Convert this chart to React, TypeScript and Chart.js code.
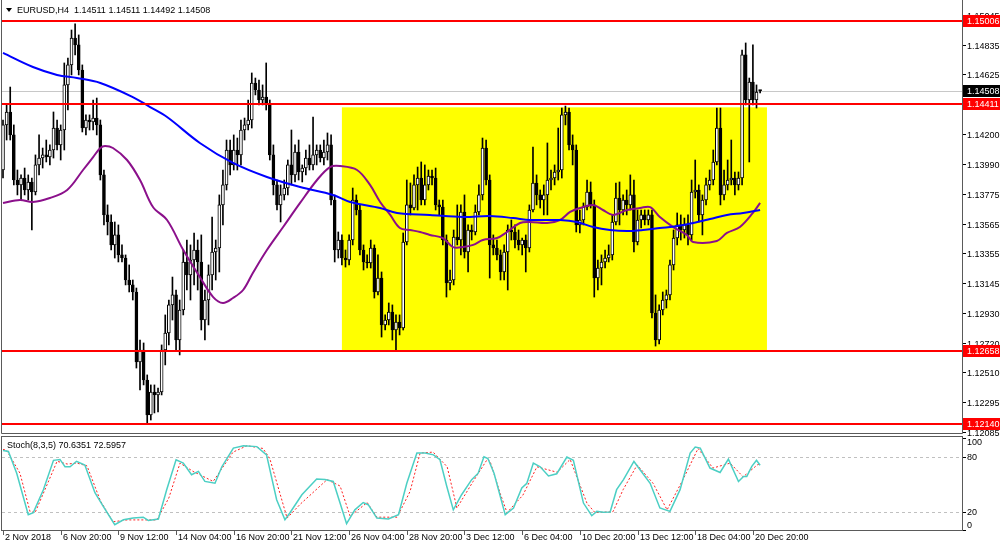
import React, { useEffect, useRef } from "react";
import { Chart, registerables } from "chart.js";
Chart.register(...registerables);

// ---------- data ----------
const SYMBOL_TITLE = "EURUSD,H4  1.14511 1.14511 1.14492 1.14508";
const STOCH_TITLE = "Stoch(8,3,5) 70.6351 72.5957";

const OPEN = [
  1.13945,1.14265,1.14357,1.14194,1.13874,1.13839,1.13888,1.13803,1.13860,1.13789,
  1.13981,1.14030,1.14052,1.14037,1.14087,1.14243,1.14123,1.14229,1.14549,1.14691,
  1.14882,1.14833,1.14655,1.14243,1.14300,1.14286,1.14314,1.14265,1.13910,1.13626,
  1.13576,1.13413,1.13484,1.13342,1.13320,1.13164,1.13129,1.13079,1.12582,1.12667,
  1.12454,1.12206,1.12369,1.12348,1.12369,1.12667,1.12788,1.12987,1.13058,1.12738,
  1.12951,1.13292,1.13200,1.13306,1.13377,1.13292,1.12880,1.13022,1.13200,1.13363,
  1.13391,1.13697,1.13839,1.14087,1.13981,1.14087,1.14052,1.14229,1.14265,1.14300,
  1.14563,1.14513,1.14442,1.14463,1.14407,1.14052,1.13839,1.13697,1.13768,1.13817,
  1.13981,1.13910,1.14073,1.13931,1.13959,1.14030,1.13981,1.14052,1.14087,1.14030,
  1.14073,1.14123,1.13732,1.13377,1.13448,1.13320,1.13306,1.13448,1.13732,1.13661,
  1.13377,1.13292,1.13285,1.13391,1.13079,1.13178,1.12845,1.12880,1.12937,1.12809,
  1.12866,1.12823,1.13434,1.13697,1.13675,1.13839,1.13888,1.13732,1.13839,1.13902,
  1.13888,1.13697,1.13682,1.13448,1.13143,1.13164,1.13469,1.13448,1.13647,1.13363,
  1.13519,1.13505,1.13647,1.13768,1.14101,1.13874,1.13413,1.13391,1.13342,1.13221,
  1.13363,1.13519,1.13505,1.13448,1.13413,1.13448,1.13391,1.13661,1.13853,1.13768,
  1.13732,1.13768,1.13874,1.13888,1.13931,1.13945,1.14336,1.14357,1.14123,1.14087,
  1.13555,1.13590,1.13682,1.13789,1.13697,1.13178,1.13249,1.13292,1.13320,1.13342,
  1.13576,1.13746,1.13661,1.13732,1.13697,1.13768,1.13434,1.13590,1.13626,1.13590,
  1.13626,1.12930,1.12738,1.12951,1.13022,1.13058,1.13271,1.13462,1.13555,1.13519,
  1.13555,1.13484,1.13789,1.13803,1.13626,1.13732,1.13839,1.13874,1.14002,1.14243,
  1.13768,1.13839,1.13874,1.13888,1.13839,1.13888,1.14762,1.14442,1.14570,1.14442,
  1.14511,
];
const HIGH = [
  1.14300,1.14407,1.14534,1.14265,1.13945,1.13910,1.13959,1.13910,1.13888,1.14052,
  1.14194,1.14101,1.14158,1.14123,1.14357,1.14300,1.14265,1.14705,1.14740,1.14939,
  1.14982,1.14904,1.14691,1.14336,1.14336,1.14442,1.14456,1.14300,1.13945,1.13697,
  1.13626,1.13576,1.13555,1.13413,1.13342,1.13271,1.13164,1.13107,1.12738,1.12717,
  1.12490,1.12419,1.12419,1.12397,1.12703,1.12916,1.13022,1.13185,1.13093,1.13022,
  1.13377,1.13448,1.13413,1.13498,1.13448,1.13484,1.13093,1.13271,1.13611,1.13448,
  1.13768,1.13945,1.14158,1.14158,1.14194,1.14172,1.14300,1.14314,1.14442,1.14634,
  1.14598,1.14584,1.14549,1.14705,1.14442,1.14123,1.13874,1.13839,1.13874,1.14016,
  1.14229,1.14123,1.14158,1.13981,1.14087,1.14123,1.14321,1.14123,1.14123,1.14158,
  1.14208,1.14194,1.13768,1.13505,1.13484,1.13377,1.13484,1.13817,1.13768,1.13697,
  1.13413,1.13342,1.13448,1.13413,1.13342,1.13221,1.12916,1.13001,1.12987,1.12916,
  1.12916,1.13498,1.13874,1.13853,1.13910,1.13966,1.14002,1.13981,1.13945,1.13945,
  1.13959,1.13732,1.13732,1.13484,1.13235,1.13519,1.13697,1.13697,1.13768,1.13555,
  1.13555,1.13697,1.13839,1.14172,1.14158,1.13910,1.13484,1.13448,1.13377,1.13413,
  1.13555,1.13590,1.13555,1.13519,1.13462,1.13484,1.13697,1.14108,1.13910,1.13803,
  1.13839,1.14137,1.13945,1.13981,1.14243,1.14385,1.14399,1.14385,1.14194,1.14123,
  1.13661,1.13711,1.13874,1.13860,1.13732,1.13306,1.13342,1.13377,1.13413,1.13626,
  1.13853,1.13860,1.13768,1.13803,1.13910,1.13874,1.13661,1.13661,1.13661,1.13661,
  1.13661,1.13058,1.12987,1.13079,1.13093,1.13306,1.13519,1.13640,1.13626,1.13604,
  1.13626,1.13874,1.14016,1.13839,1.13768,1.13888,1.13945,1.14087,1.14385,1.14385,
  1.13945,1.14016,1.14158,1.13931,1.13931,1.14797,1.14847,1.14598,1.14833,1.14549,
  1.14511,
];
const LOW = [
  1.13888,1.14158,1.14158,1.13839,1.13768,1.13732,1.13768,1.13732,1.13519,1.13768,
  1.13910,1.13959,1.14002,1.13981,1.14030,1.14087,1.14016,1.14087,1.14371,1.14620,
  1.14762,1.14620,1.14215,1.14194,1.14229,1.14229,1.14194,1.13874,1.13555,1.13484,
  1.13377,1.13320,1.13292,1.13292,1.13129,1.13079,1.13022,1.12539,1.12383,1.12419,
  1.12142,1.12170,1.12220,1.12227,1.12348,1.12561,1.12703,1.12880,1.12667,1.12632,
  1.12916,1.13093,1.13022,1.13129,1.13093,1.12809,1.12738,1.12845,1.13093,1.13164,
  1.13221,1.13555,1.13803,1.13910,1.13945,1.13945,1.13981,1.14158,1.14229,1.14243,
  1.14478,1.14407,1.14407,1.14371,1.14016,1.13768,1.13661,1.13576,1.13732,1.13768,
  1.13839,1.13860,1.13874,1.13860,1.13910,1.13945,1.13945,1.13981,1.14002,1.13981,
  1.14016,1.13697,1.13292,1.13320,1.13271,1.13256,1.13271,1.13413,1.13626,1.13342,
  1.13235,1.13249,1.13249,1.13036,1.13058,1.12759,1.12809,1.12845,1.12738,1.12667,
  1.12774,1.12809,1.13413,1.13626,1.13661,1.13661,1.13697,1.13697,1.13803,1.13839,
  1.13661,1.13626,1.13413,1.13043,1.13093,1.13129,1.13413,1.13342,1.13320,1.13221,
  1.13448,1.13484,1.13626,1.13732,1.13839,1.13178,1.13342,1.13306,1.13164,1.13164,
  1.13093,1.13448,1.13391,1.13377,1.13342,1.13221,1.13363,1.13647,1.13697,1.13675,
  1.13626,1.13626,1.13803,1.13839,1.13874,1.13888,1.14265,1.14087,1.13981,1.13505,
  1.13498,1.13555,1.13661,1.13675,1.13043,1.13093,1.13129,1.13249,1.13292,1.13306,
  1.13555,1.13555,1.13626,1.13626,1.13661,1.13363,1.13413,1.13533,1.13555,1.13555,
  1.12894,1.12695,1.12710,1.12916,1.12965,1.13022,1.13235,1.13413,1.13448,1.13462,
  1.13413,1.13448,1.13746,1.13576,1.13484,1.13697,1.13803,1.13839,1.13981,1.13697,
  1.13732,1.13803,1.13839,1.13768,1.13803,1.13839,1.14407,1.14002,1.14407,1.14385,
  1.14492,
];
const CLOSE = [
  1.14265,1.14357,1.14194,1.13874,1.13839,1.13888,1.13803,1.13860,1.13789,1.13981,
  1.14030,1.14052,1.14037,1.14087,1.14243,1.14123,1.14229,1.14549,1.14691,1.14882,
  1.14833,1.14655,1.14243,1.14300,1.14286,1.14314,1.14265,1.13910,1.13626,1.13576,
  1.13413,1.13484,1.13342,1.13320,1.13164,1.13129,1.13079,1.12582,1.12667,1.12454,
  1.12206,1.12369,1.12348,1.12369,1.12667,1.12788,1.12987,1.13058,1.12738,1.12951,
  1.13292,1.13200,1.13306,1.13377,1.13292,1.12880,1.13022,1.13200,1.13363,1.13391,
  1.13697,1.13839,1.14087,1.13981,1.14087,1.14052,1.14229,1.14265,1.14300,1.14563,
  1.14513,1.14442,1.14463,1.14407,1.14052,1.13839,1.13697,1.13768,1.13817,1.13981,
  1.13910,1.14073,1.13931,1.13959,1.14030,1.13981,1.14052,1.14087,1.14030,1.14073,
  1.14123,1.13732,1.13377,1.13448,1.13320,1.13306,1.13448,1.13732,1.13661,1.13377,
  1.13292,1.13285,1.13391,1.13079,1.13178,1.12845,1.12880,1.12937,1.12809,1.12866,
  1.12823,1.13434,1.13697,1.13675,1.13839,1.13888,1.13732,1.13839,1.13902,1.13888,
  1.13697,1.13682,1.13448,1.13143,1.13164,1.13469,1.13448,1.13647,1.13363,1.13519,
  1.13505,1.13647,1.13768,1.14101,1.13874,1.13413,1.13391,1.13342,1.13221,1.13363,
  1.13519,1.13505,1.13448,1.13413,1.13448,1.13391,1.13661,1.13853,1.13768,1.13732,
  1.13768,1.13874,1.13888,1.13931,1.13945,1.14336,1.14357,1.14123,1.14087,1.13555,
  1.13590,1.13682,1.13789,1.13697,1.13178,1.13249,1.13292,1.13320,1.13342,1.13576,
  1.13746,1.13661,1.13732,1.13697,1.13768,1.13434,1.13590,1.13626,1.13590,1.13626,
  1.12930,1.12738,1.12951,1.13022,1.13058,1.13271,1.13462,1.13555,1.13519,1.13555,
  1.13484,1.13789,1.13803,1.13626,1.13732,1.13839,1.13874,1.14002,1.14243,1.13768,
  1.13839,1.13874,1.13888,1.13839,1.13888,1.14762,1.14442,1.14570,1.14442,1.14499,
  1.14508,
];

// slow moving average (blue), bar index -> value
const BLUE_MA_X = [0,8.3,15,20.5,27,36,40.8,45.5,54.6,63.8,73.2,82.4,91.5,96.3,104.6,109.3,118.4,127.6,135.1,141.5,146.2,154.5,159.2,163.7,168.4,173.1,177.5,182.2,187,191.4,196.1,200.8,205.3,210];
const BLUE_MA = [1.14776,1.14676,1.14620,1.14598,1.14563,1.14463,1.14392,1.14321,1.14137,1.13995,1.13895,1.13824,1.13768,1.13718,1.13675,1.13640,1.13626,1.13611,1.13618,1.13604,1.13590,1.13590,1.13576,1.13540,1.13519,1.13512,1.13519,1.13533,1.13547,1.13569,1.13597,1.13626,1.13640,1.13661];

// fast moving average (purple)
const PURPLE_MA_X = [0,4.7,8.3,13,17.8,22.2,25,27,28.3,30.5,34.4,38,41.6,45.5,50,54.6,58.3,61,63.8,66.6,69.3,73.2,77.7,82.4,87.1,90.7,93.5,98.2,101.8,104.6,107.4,110.1,112.9,115.7,118.4,122,124.8,127.6,130.4,133.1,137,139.8,143.4,146.2,150.9,154.5,157.3,160,163.7,166.4,169.2,173.1,176.7,179.5,182.2,185.9,189.7,191.4,198,200.8,204.4,208,210];
const PURPLE_MA = [1.13711,1.13732,1.13718,1.13746,1.13803,1.13945,1.14037,1.14101,1.14115,1.14101,1.14016,1.13874,1.13682,1.13590,1.13377,1.13185,1.13043,1.13001,1.13036,1.13093,1.13214,1.13377,1.13540,1.13711,1.13874,1.13966,1.13973,1.13945,1.13839,1.13718,1.13626,1.13533,1.13519,1.13505,1.13484,1.13462,1.13398,1.13398,1.13413,1.13448,1.13462,1.13505,1.13569,1.13576,1.13569,1.13590,1.13647,1.13675,1.13697,1.13661,1.13626,1.13661,1.13675,1.13682,1.13611,1.13540,1.13484,1.13434,1.13441,1.13498,1.13540,1.13640,1.13711];

// stochastic main (%K) and signal (%D)
const STOCH_MAIN_X = [0,1.5,3.8,7,8.4,11.2,14,15.8,17.2,18.6,20.4,22.7,25.5,27.8,31,33.4,36.1,38.9,40.3,43.1,45.4,48,50,52.3,54.2,56,58.8,60.7,63.9,66.7,70.4,73.1,75.9,78.2,79.6,82.9,87,89.3,91.6,95.3,97.6,99.9,101.3,103.7,106.9,109.7,112,114.8,117.1,119.4,121.2,123.1,124.9,127.2,130,131.8,133.4,134.5,136.2,139.3,141.6,143.9,145.3,147.1,149,151.3,153.6,156.4,158.2,161,163.3,164.7,166.5,168.4,170.2,172.1,175,176.7,179.5,182.2,185,187.8,190.6,192,193.4,196.1,198.9,201.2,204,205.4,206.3,207.7,209,210];
const STOCH_MAIN = [86.8,85.7,62,16.7,19,44,76,77,69,69,75,71,40.7,25.7,5.8,11.2,13,14,10.5,12,44,76.7,73,60.3,64,53,51,69,89.4,92,91,82,33,11.2,18.8,38.5,55.6,55,53,6.9,22,30,27.6,13,12,16.7,51,84,84,82,76.7,47.5,22,38.5,55,62,80,78,62,16.7,24,45.8,51,73,69,59,61.4,79.6,76,29.4,15.6,20.3,19.5,19.7,44,55,74.8,65.8,51,24,20.3,44,84,90.5,89.4,67.6,62.8,77.4,53,58.5,58.5,69.4,76,70.6];
const STOCH_SIG_X = [0,1,4.7,7.5,8.9,15,17.8,20.5,23.3,27,30.5,34.4,42.7,46,49.1,52.7,58.3,63.8,67.7,72.1,74,78.8,82.4,89.9,93.5,96.3,101,103.7,109.3,112.9,115.7,119.3,123.2,125.9,130.4,134.3,135.1,137.9,139.8,144.2,148.1,153.7,157.3,162,164.2,169.2,172,175.9,180.3,184.2,188.6,192.8,196.9,201.7,205.3,209.2,210];
const STOCH_SIG = [88,87,62,20,19,75,72,73,70,32,9,11,11,35,73,64,53,85,92,89,78,13,28,55,48,15,30,14,14,42,84,85,69,24,53,77,75,40,19,38,69,63,77,29,19,20,44,71,51,22,55,89,67.6,73,58,71,72.6];

// horizontal levels and box
const RED_LEVELS = [1.15006, 1.14411, 1.12658, 1.12140];
const BID_PRICE = 1.14508;
const ZONE_START = 94.0;
const ZONE_END = 211.9;
const ZONE_LOW = 1.12658;
const ZONE_HIGH = 1.1439;

// axes
const PRICE_TICKS = [1.15045,1.14835,1.14625,1.1441,1.142,1.1399,1.13775,1.13565,1.13355,1.13145,1.1293,1.1272,1.1251,1.12295,1.12085];
const STOCH_TICKS = [100, 80, 20, 0];
const STOCH_LEVELS = [80, 20];
const TIME_TICK_IDX = [0,16,32,48,64,80,96,112,128,144,160,176,192,208];
const TIME_TICK_LABELS = ["2 Nov 2018","6 Nov 20:00","9 Nov 12:00","14 Nov 04:00","16 Nov 20:00","21 Nov 12:00","26 Nov 04:00","28 Nov 20:00","3 Dec 12:00","6 Dec 04:00","10 Dec 20:00","13 Dec 12:00","18 Dec 04:00","20 Dec 20:00"];

const X_MIN = -0.28;
const X_MAX = 266;
const PRICE_MIN = 1.120919;
const PRICE_MAX = 1.151165;

const FONT = '9px "Liberation Sans", Arial, sans-serif';
const FRAME = "#5a5a5a";

const mainOverlay = {
  id: "mainOverlay",
  beforeDatasetsDraw(chart: any) {
    const { ctx, scales } = chart;
    const x = scales.x, y = scales.y;
    const ca = chart.chartArea;
    ctx.save();
    const x0 = x.getPixelForValue(ZONE_START);
    const x1 = x.getPixelForValue(ZONE_END);
    const y0 = y.getPixelForValue(ZONE_HIGH);
    const y1 = y.getPixelForValue(ZONE_LOW);
    ctx.fillStyle = "#ffff00";
    ctx.fillRect(x0, y0, x1 - x0, y1 - y0);
    const yb = Math.round(y.getPixelForValue(BID_PRICE)) + 0.5;
    ctx.strokeStyle = "#c8c8c8";
    ctx.lineWidth = 1;
    ctx.beginPath();
    ctx.moveTo(ca.left, yb);
    ctx.lineTo(ca.right, yb);
    ctx.stroke();
    ctx.restore();
  },
  afterDatasetsDraw(chart: any) {
    const { ctx, scales } = chart;
    const y = scales.y;
    const ca = chart.chartArea;
    ctx.save();
    ctx.fillStyle = "#ff0000";
    RED_LEVELS.forEach((lv) => {
      const py = Math.round(y.getPixelForValue(lv));
      ctx.fillRect(ca.left, py - 1, ca.right - ca.left, 2);
    });
    ctx.restore();
  },
  afterDraw(chart: any) {
    const { ctx, scales } = chart;
    const y = scales.y;
    ctx.save();
    ctx.strokeStyle = FRAME;
    ctx.lineWidth = 1;
    ctx.beginPath();
    ctx.moveTo(1.5, 0);
    ctx.lineTo(1.5, 433.5);
    ctx.lineTo(962.5, 433.5);
    ctx.lineTo(962.5, 0);
    ctx.stroke();
    ctx.font = FONT;
    ctx.fillStyle = "#000";
    ctx.textBaseline = "middle";
    ctx.textAlign = "left";
    PRICE_TICKS.forEach((v) => {
      const py = Math.round(y.getPixelForValue(v));
      ctx.fillRect(963, py, 3, 1);
      ctx.fillText(v.toFixed(5), 967, py + 1.5);
    });
    RED_LEVELS.forEach((lv) => {
      const py = Math.round(y.getPixelForValue(lv));
      ctx.fillStyle = "#ff0000";
      ctx.fillRect(963, py - 6, 37, 12);
      ctx.fillStyle = "#ffffff";
      ctx.fillText(lv.toFixed(5), 967, py + 0.5);
    });
    const pb = Math.round(y.getPixelForValue(BID_PRICE));
    ctx.fillStyle = "#000000";
    ctx.fillRect(963, pb - 6, 37, 12);
    ctx.fillStyle = "#ffffff";
    ctx.fillText(BID_PRICE.toFixed(5), 967, pb + 0.5);
    ctx.fillStyle = "#000";
    ctx.beginPath();
    ctx.moveTo(6, 8);
    ctx.lineTo(12, 8);
    ctx.lineTo(9, 12);
    ctx.closePath();
    ctx.fill();
    ctx.fillText(SYMBOL_TITLE, 17, 10.5);
    ctx.restore();
  },
};

const stochOverlay = {
  id: "stochOverlay",
  beforeDatasetsDraw(chart: any) {
    const { ctx, scales } = chart;
    const y = scales.y;
    const ca = chart.chartArea;
    ctx.save();
    ctx.strokeStyle = "#c0c0c0";
    ctx.lineWidth = 1;
    ctx.setLineDash([3, 3]);
    STOCH_LEVELS.forEach((lv) => {
      const py = Math.round(y.getPixelForValue(lv)) + 0.5;
      ctx.beginPath();
      ctx.moveTo(ca.left, py);
      ctx.lineTo(ca.right, py);
      ctx.stroke();
    });
    ctx.restore();
  },
  afterDraw(chart: any) {
    const { ctx, scales } = chart;
    const x = scales.x, y = scales.y;
    ctx.save();
    ctx.strokeStyle = FRAME;
    ctx.lineWidth = 1;
    ctx.strokeRect(1.5, 0.5, 961, 94);
    ctx.font = FONT;
    ctx.fillStyle = "#000";
    ctx.textAlign = "left";
    ctx.textBaseline = "middle";
    STOCH_TICKS.forEach((v) => {
      const py = Math.round(y.getPixelForValue(v));
      ctx.fillRect(963, py, 3, 1);
      let ty = py + 1;
      if (v === 100) ty = py + 5;
      if (v === 0) ty = py - 4;
      ctx.fillText(String(v), 967, ty);
    });
    TIME_TICK_IDX.forEach((i, k) => {
      const px = Math.round(x.getPixelForValue(i)) + 0.5;
      ctx.beginPath();
      ctx.moveTo(px, 95);
      ctx.lineTo(px, 99);
      ctx.stroke();
      ctx.fillText(TIME_TICK_LABELS[k], px + 1.5, 102);
    });
    ctx.fillText(STOCH_TITLE, 7, 9.5);
    ctx.restore();
  },
};

export default function App() {
  const mainRef = useRef<HTMLCanvasElement>(null);
  const stochRef = useRef<HTMLCanvasElement>(null);

  useEffect(() => {
    document.body.style.margin = "0";
    const idx = CLOSE.map((_, i) => i);
    const wicks = idx.map((i) => ({ x: i, y: [LOW[i], HIGH[i]] }));
    const bodies = idx.map((i) => ({ x: i, y: [OPEN[i], CLOSE[i]] }));
    const bodyColors = idx.map((i) => (CLOSE[i] >= OPEN[i] ? "#ffffff" : "#000000"));
    const blue = BLUE_MA_X.map((v, i) => ({ x: v, y: BLUE_MA[i] }));
    const purple = PURPLE_MA_X.map((v, i) => ({ x: v, y: PURPLE_MA[i] }));

    const main = new Chart(mainRef.current as HTMLCanvasElement, {
      type: "bar",
      data: {
        datasets: [
          { type: "line", data: blue, borderColor: "#0000ff", borderWidth: 2, pointRadius: 0, tension: 0.35, order: 0 } as any,
          { type: "line", data: purple, borderColor: "#8b108b", borderWidth: 2, pointRadius: 0, tension: 0.35, order: 0 } as any,
          { type: "bar", data: bodies, backgroundColor: bodyColors, borderColor: "#000000", borderWidth: 1, borderSkipped: false, barThickness: 3, grouped: false, minBarLength: 1, order: 1 } as any,
          { type: "bar", data: wicks, backgroundColor: "#000000", borderWidth: 0, barThickness: 1, grouped: false, order: 2 } as any,
        ],
      },
      options: {
        animation: false,
        responsive: false,
        maintainAspectRatio: false,
        events: [],
        layout: { padding: { left: 2, right: 38, top: 5, bottom: 5 } },
        plugins: { legend: { display: false }, tooltip: { enabled: false } },
        scales: {
          x: { type: "linear", min: X_MIN, max: X_MAX, offset: false, display: false },
          y: { type: "linear", min: PRICE_MIN, max: PRICE_MAX, display: false },
        },
      } as any,
      plugins: [mainOverlay],
    });

    const kLine = STOCH_MAIN_X.map((v, i) => ({ x: v, y: STOCH_MAIN[i] }));
    const dLine = STOCH_SIG_X.map((v, i) => ({ x: v, y: STOCH_SIG[i] }));
    const stoch = new Chart(stochRef.current as HTMLCanvasElement, {
      type: "line",
      data: {
        datasets: [
          { data: kLine, borderColor: "#4ccfc4", borderWidth: 1.5, pointRadius: 0, tension: 0 },
          { data: dLine, borderColor: "#ff2020", borderWidth: 1, borderDash: [2, 2], pointRadius: 0, tension: 0 },
        ],
      },
      options: {
        animation: false,
        responsive: false,
        maintainAspectRatio: false,
        events: [],
        layout: { padding: { left: 2, right: 38, top: 1, bottom: 20 } },
        plugins: { legend: { display: false }, tooltip: { enabled: false } },
        scales: {
          x: { type: "linear", min: X_MIN, max: X_MAX, offset: false, display: false },
          y: { type: "linear", min: 0, max: 101.5, display: false },
        },
      } as any,
      plugins: [stochOverlay],
    });

    return () => {
      main.destroy();
      stoch.destroy();
    };
  }, []);

  return (
    <div style={{ position: "relative", width: 1000, height: 550, background: "#ffffff", overflow: "hidden" }}>
      <canvas ref={mainRef} width={1000} height={436} style={{ position: "absolute", left: 0, top: 0, width: 1000, height: 436 }} />
      <canvas ref={stochRef} width={1000} height={114} style={{ position: "absolute", left: 0, top: 436, width: 1000, height: 114 }} />
    </div>
  );
}
